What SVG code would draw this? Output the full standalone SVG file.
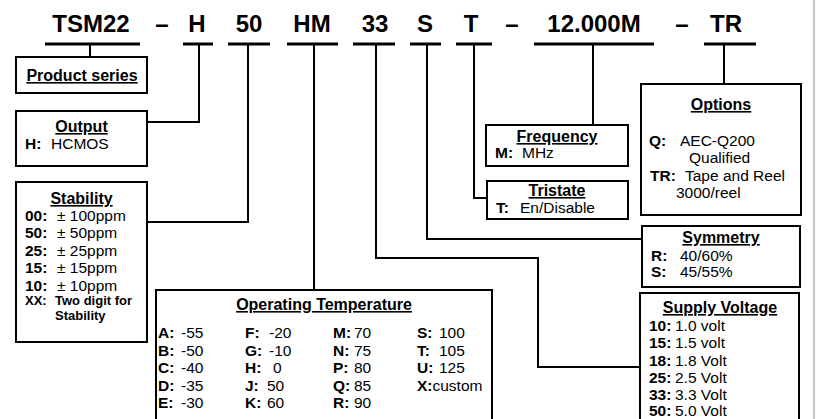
<svg xmlns="http://www.w3.org/2000/svg" width="819" height="419" viewBox="0 0 819 419">
<style>
text{font-family:"Liberation Sans",Arial,sans-serif;fill:#000}
.hd{font-size:24px;font-weight:bold;text-anchor:middle}
.dash{font-size:24px;font-weight:bold;text-anchor:middle}
.bar{stroke:#000;stroke-width:3;fill:none}
.box{fill:#fff;stroke:#000;stroke-width:2}
.con{fill:none;stroke:#000;stroke-width:2}
.tt{font-size:16px;font-weight:bold;text-anchor:middle;text-decoration:underline}
.b{font-size:15.5px}
.k{font-weight:bold}
.sm{font-size:13px;font-weight:bold}
</style>
<rect x="0" y="0" width="819" height="419" fill="#fff"/>
<line x1="814" y1="0" x2="814" y2="419" stroke="#c4c4c4" stroke-width="2"/>

<g id="header">
<text class="hd" x="91" y="32">TSM22</text>
<text class="dash" x="162" y="32">–</text>
<text class="hd" x="197" y="32">H</text>
<text class="hd" x="249" y="32">50</text>
<text class="hd" x="312" y="32">HM</text>
<text class="hd" x="375" y="32">33</text>
<text class="hd" x="425" y="32">S</text>
<text class="hd" x="471" y="32">T</text>
<text class="dash" x="512" y="32">–</text>
<text class="hd" x="594" y="32">12.000M</text>
<text class="dash" x="682" y="32">–</text>
<text class="hd" x="726" y="32">TR</text>
<g class="bar">
<line x1="45" y1="44" x2="140" y2="44"/>
<line x1="183" y1="44" x2="213" y2="44"/>
<line x1="228" y1="44" x2="270" y2="44"/>
<line x1="287" y1="44" x2="338" y2="44"/>
<line x1="353" y1="44" x2="395" y2="44"/>
<line x1="410" y1="44" x2="441" y2="44"/>
<line x1="456" y1="44" x2="492" y2="44"/>
<line x1="534" y1="44" x2="654" y2="44"/>
<line x1="704" y1="44" x2="756" y2="44"/>
</g>
</g>

<g id="connectors" class="con">
<path d="M90 44V57"/>
<path d="M199 44V122H147"/>
<path d="M248 44V222H147"/>
<path d="M314 44V290"/>
<path d="M376 44V258H538V367H640"/>
<path d="M427 44V239H642"/>
<path d="M474 44V198H487"/>
<path d="M593 44V125"/>
<path d="M724 44V84"/>
</g>

<g id="product-series">
<rect class="box" x="16" y="57" width="131" height="36"/>
<text class="tt" x="82" y="81">Product series</text>
</g>

<g id="output">
<rect class="box" x="16" y="111" width="131" height="55"/>
<text class="tt" x="81.5" y="132">Output</text>
<text class="b" y="149"><tspan class="k" x="25">H:</tspan><tspan x="51">HCMOS</tspan></text>
</g>

<g id="stability">
<rect class="box" x="16" y="182" width="131" height="160"/>
<text class="tt" x="81.5" y="204">Stability</text>
<text class="b" y="221"><tspan class="k" x="25">00:</tspan><tspan x="57">± 100ppm</tspan></text>
<text class="b" y="238"><tspan class="k" x="25">50:</tspan><tspan x="57">± 50ppm</tspan></text>
<text class="b" y="256"><tspan class="k" x="25">25:</tspan><tspan x="57">± 25ppm</tspan></text>
<text class="b" y="273"><tspan class="k" x="25">15:</tspan><tspan x="57">± 15ppm</tspan></text>
<text class="b" y="291"><tspan class="k" x="25">10:</tspan><tspan x="57">± 10ppm</tspan></text>
<text class="sm" x="25" y="305">XX:</text>
<text class="sm" x="55" y="305">Two digit for</text>
<text class="sm" x="55" y="320">Stability</text>
</g>

<g id="operating-temperature">
<rect class="box" x="156" y="290" width="336" height="140"/>
<text class="tt" x="324" y="310">Operating Temperature</text>
<g class="b">
<text y="338"><tspan class="k" x="158">A:</tspan><tspan x="181">-55</tspan><tspan class="k" x="245">F:</tspan><tspan x="269">-20</tspan><tspan class="k" x="333">M:</tspan><tspan x="354">70</tspan><tspan class="k" x="417">S:</tspan><tspan x="439">100</tspan></text>
<text y="356"><tspan class="k" x="158">B:</tspan><tspan x="181">-50</tspan><tspan class="k" x="245">G:</tspan><tspan x="269">-10</tspan><tspan class="k" x="333">N:</tspan><tspan x="354">75</tspan><tspan class="k" x="417">T:</tspan><tspan x="439">105</tspan></text>
<text y="373"><tspan class="k" x="158">C:</tspan><tspan x="181">-40</tspan><tspan class="k" x="245">H:</tspan><tspan x="273">0</tspan><tspan class="k" x="333">P:</tspan><tspan x="354">80</tspan><tspan class="k" x="417">U:</tspan><tspan x="439">125</tspan></text>
<text y="391"><tspan class="k" x="158">D:</tspan><tspan x="181">-35</tspan><tspan class="k" x="245">J:</tspan><tspan x="267">50</tspan><tspan class="k" x="333">Q:</tspan><tspan x="354">85</tspan><tspan class="k" x="417">X:</tspan><tspan>custom</tspan></text>
<text y="408"><tspan class="k" x="158">E:</tspan><tspan x="181">-30</tspan><tspan class="k" x="245">K:</tspan><tspan x="267">60</tspan><tspan class="k" x="333">R:</tspan><tspan x="354">90</tspan></text>
</g>
</g>

<g id="frequency">
<rect class="box" x="486" y="125" width="142" height="41"/>
<text class="tt" x="557" y="142">Frequency</text>
<text class="b" y="158"><tspan class="k" x="495">M:</tspan><tspan x="522">MHz</tspan></text>
</g>

<g id="tristate">
<rect class="box" x="487" y="181" width="141" height="38"/>
<text class="tt" x="557" y="196">Tristate</text>
<text class="b" y="213"><tspan class="k" x="496">T:</tspan><tspan x="520">En/Disable</tspan></text>
</g>

<g id="options">
<rect class="box" x="641" y="84" width="160" height="131"/>
<text class="tt" x="721" y="110">Options</text>
<text class="b" y="146"><tspan class="k" x="649">Q:</tspan><tspan x="680">AEC-Q200</tspan></text>
<text class="b" x="689" y="163">Qualified</text>
<text class="b" y="181"><tspan class="k" x="650">TR:</tspan><tspan x="685">Tape and Reel</tspan></text>
<text class="b" x="676" y="198">3000/reel</text>
</g>

<g id="symmetry">
<rect class="box" x="642" y="226" width="158" height="61"/>
<text class="tt" x="721" y="243">Symmetry</text>
<text class="b" y="261"><tspan class="k" x="651">R:</tspan><tspan x="680">40/60%</tspan></text>
<text class="b" y="277"><tspan class="k" x="651">S:</tspan><tspan x="680">45/55%</tspan></text>
</g>

<g id="supply-voltage">
<rect class="box" x="640" y="293" width="159" height="140"/>
<text class="tt" x="720" y="313">Supply Voltage</text>
<text class="b" y="331"><tspan class="k" x="649">10:</tspan><tspan x="675">1.0 volt</tspan></text>
<text class="b" y="348"><tspan class="k" x="649">15:</tspan><tspan x="675">1.5 volt</tspan></text>
<text class="b" y="366"><tspan class="k" x="649">18:</tspan><tspan x="675">1.8 Volt</tspan></text>
<text class="b" y="383"><tspan class="k" x="649">25:</tspan><tspan x="675">2.5 Volt</tspan></text>
<text class="b" y="400"><tspan class="k" x="649">33:</tspan><tspan x="675">3.3 Volt</tspan></text>
<text class="b" y="416"><tspan class="k" x="649">50:</tspan><tspan x="675">5.0 Volt</tspan></text>
</g>
</svg>
